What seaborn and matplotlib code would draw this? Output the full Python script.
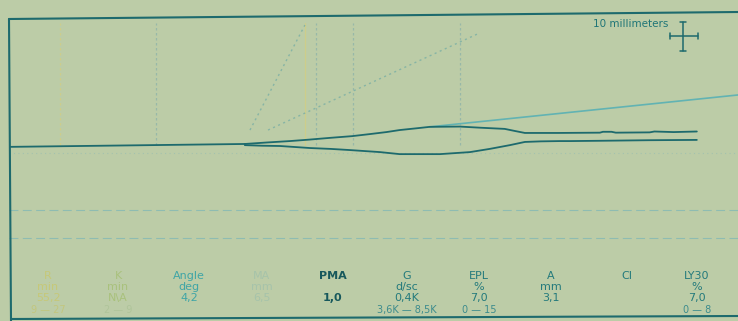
import matplotlib
matplotlib.use("Agg")
import matplotlib.pyplot as plt
from matplotlib.lines import Line2D
import seaborn as sns
import pandas as pd

# ---- data (time in minutes, amplitude in mm) ----
base_t = [0.0, 55.0]
base_amp = [-0.3, 0.7]

upper_t = [55.0, 60.0, 65.5, 70.0, 74.8, 80.0, 84.1, 88.0, 91.1, 95.0, 98.1, 105.1,
           110.0, 115.6, 117.9, 120.3, 128.0, 137.8, 138.5, 140.5, 141.5, 149.4, 150.5, 155.0, 160.4]
upper_amp = [0.7, 1.2, 1.7, 2.2, 2.8, 3.4, 4.1, 4.8, 5.5, 6.1, 6.6, 6.7,
             6.3, 5.9, 5.2, 4.5, 4.5, 4.6, 4.9, 4.9, 4.6, 4.7, 5.0, 4.8, 5.0]

lower_t = [55.0, 59.0, 63.2, 70.2, 75.0, 79.5, 86.5, 91.1, 100.5, 107.5, 112.1, 116.8,
           120.3, 124.0, 128.4, 131.0, 137.8, 149.4, 160.4]
lower_amp = [0.3, 0.1, 0.0, -0.7, -1.0, -1.4, -2.1, -2.8, -2.8, -2.1, -1.0, 0.3,
             1.4, 1.6, 1.7, 1.7, 1.8, 2.0, 2.1]

tangent_t = [98.1, 170.0]
tangent_amp = [6.6, 17.6]

dot1_t = [56.2, 69.0]
dot1_amp = [5.5, 41.7]
dot2_t = [60.4, 109.8]
dot2_amp = [5.5, 39.0]

vline_t = [11.9, 34.3, 69.0, 71.6, 80.2, 105.1]
hline_amp = [-2.4, -22.0, -31.7]

labels = ["R", "K", "Angle", "MA", "PMA", "G", "EPL", "A", "CI", "LY30"]
units = ["min", "min", "deg", "mm", "", "d/sc", "%", "mm", "", "%"]
values = ["55,2", "N\\A", "4,2", "6,5", "1,0", "0,4K", "7,0", "3,1", "", "7,0"]
ranges = ["9 — 27", "2 — 9", "", "", "", "3,6K — 8,5K", "0 — 15", "", "", "0 — 8"]

# ---- styles ----
bg = "#bccca7"
dark = "#1d6a6d"
col_colors = ["#c6c878", "#a9c17c", "#3fa5a6", "#a6c3aa", "#17585c",
              "#247a7c", "#247a7c", "#247a7c", "#247a7c", "#247a7c"]
range_colors = ["#c2c67e", "#afc49a", "", "", "", "#3d8c8d", "#3d8c8d", "", "", "#3d8c8d"]
col_x = [48, 118, 189, 262, 333, 407, 479, 551, 627, 697]

sns.set_theme(style="white")
plt.rcParams["font.family"] = ["DejaVu Sans"]

W, H = 738, 321
fig = plt.figure(figsize=(W / 100, H / 100), dpi=100)
fig.patch.set_facecolor(bg)

ax = fig.add_axes([9 / W, 1 - 263 / H, (W - 9) / W, (263 - 19) / H])
ax.set_facecolor(bg)
ax.patch.set_alpha(0)
ax.set_xlim(0, 170)
ax.set_ylim(-40.34, 43.79)
ax.axis("off")

# grid-like guides
for i, t in enumerate(vline_t):
    c = "#cdcd8a" if i in (0, 2) else "#97b8a8"
    ls = "-" if i == 2 else (0, (2, 2))
    ax.plot([t, t], [0.5, 42.5], color=c, lw=0.9, ls=ls)
for i, a in enumerate(hline_amp):
    if i == 0:
        ax.axhline(a, color="#a3c2ae", lw=0.8, ls=(0, (1, 3)))
    else:
        ax.axhline(a, color="#8ebcb2", lw=0.8, ls=(0, (8, 4)))

# dotted construction lines
ax.plot(dot1_t, dot1_amp, color="#86b4a5", lw=1.0, ls=(0, (1.5, 2.5)))
ax.plot(dot2_t, dot2_amp, color="#86b4a5", lw=1.0, ls=(0, (1.5, 2.5)))

# tangent line
sns.lineplot(x=tangent_t, y=tangent_amp, ax=ax, color="#62b3b3", lw=1.2,
             estimator=None, sort=False)

# traces
df = pd.concat([
    pd.DataFrame({"t": base_t, "amp": base_amp, "s": "base"}),
    pd.DataFrame({"t": upper_t, "amp": upper_amp, "s": "upper"}),
    pd.DataFrame({"t": lower_t, "amp": lower_amp, "s": "lower"}),
])
sns.lineplot(data=df, x="t", y="amp", units="s", estimator=None, sort=False,
             color=dark, lw=1.3, ax=ax)
ax.set_xlabel("")
ax.set_ylabel("")
if ax.get_legend():
    ax.get_legend().remove()

# frame (slightly tilted like the photo)
def fl(x0, y0, x1, y1, **kw):
    fig.add_artist(Line2D([x0 / W, x1 / W], [1 - y0 / H, 1 - y1 / H], **kw))

fl(9, 19, 738, 12, color=dark, lw=1.5)
fl(9, 19, 11, 321, color=dark, lw=1.5)
fl(11, 319, 738, 316, color=dark, lw=1.5)

# scale bar
fig.text(631 / W, 1 - 24 / H, "10 millimeters", color="#1f7577", fontsize=7.5,
         ha="center", va="center")
fl(683, 22, 683, 51, color=dark, lw=1.1)
fl(670, 36, 698, 36, color=dark, lw=1.1)
fl(680, 22, 686, 22, color=dark, lw=1.1)
fl(680, 51, 686, 51, color=dark, lw=1.1)
fl(670, 33, 670, 39, color=dark, lw=1.1)
fl(698, 33, 698, 39, color=dark, lw=1.1)

# parameter table
rows_y = [276, 287, 298, 310]
for i, lab in enumerate(labels):
    x = col_x[i] / W
    c = col_colors[i]
    fw = "bold" if lab == "PMA" else "normal"
    fig.text(x, 1 - rows_y[0] / H, lab, color=c, fontsize=8, ha="center", va="center", fontweight=fw)
    if units[i]:
        fig.text(x, 1 - rows_y[1] / H, units[i], color=c, fontsize=8, ha="center", va="center")
    if values[i]:
        fig.text(x, 1 - rows_y[2] / H, values[i], color=c, fontsize=8, ha="center", va="center", fontweight=fw)
    if ranges[i]:
        fig.text(x, 1 - rows_y[3] / H, ranges[i], color=range_colors[i], fontsize=7, ha="center", va="center")

fig.savefig("out.png", dpi=100, facecolor=bg)
